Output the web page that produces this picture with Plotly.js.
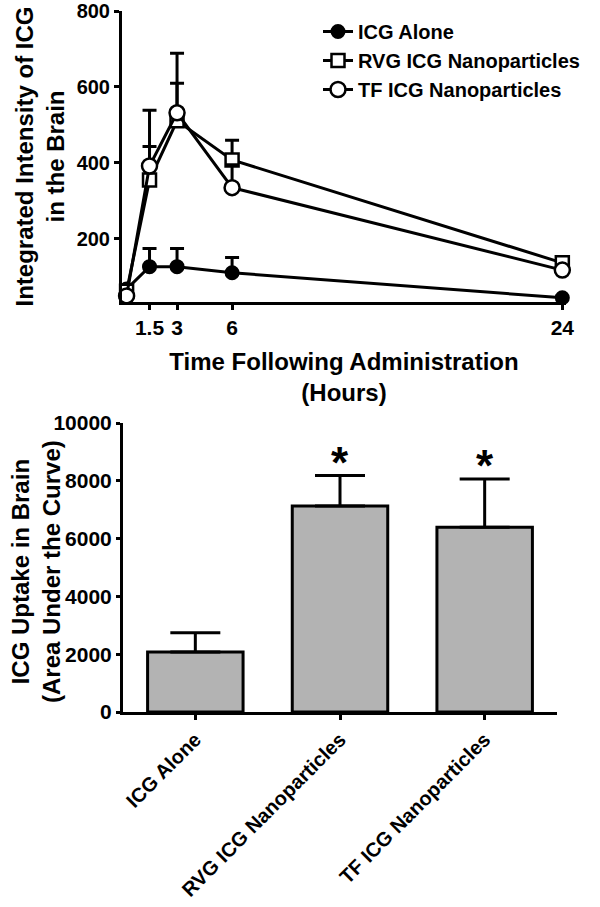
<!DOCTYPE html>
<html>
<head>
<meta charset="utf-8">
<script src="https://cdn.plot.ly/plotly-3.0.1.min.js"></script>
<style>html,body{margin:0;padding:0;background:#fff;}#chart{width:600px;height:907px;}</style>
</head>
<body>
<div id="chart"></div>
<script>
// ---- Data ----
const timeHours = [0.25, 1.5, 3, 6, 24];
const timeTickVals = [1.5, 3, 6, 24];
const timeTickText = ['1.5', '3', '6', '24'];

const icgAlone = [68, 127, 127, 111, 45];
const icgAloneErr = [5, 48, 48, 40, 5];
const rvgNano = [62, 355, 511, 408, 137];
const rvgNanoErr = [5, 88, 99, 52, 10];
const tfNano = [50, 392, 532, 335, 118];
const tfNanoErr = [5, 147, 157, 60, 8];

const seriesNames = ['ICG Alone', 'RVG ICG Nanoparticles', 'TF ICG Nanoparticles'];

const groups = ['ICG Alone', 'RVG ICG Nanoparticles', 'TF ICG Nanoparticles'];
const auc = [2080, 7130, 6390];
const aucErr = [660, 1050, 1670];
const signif = ['', '*', '*'];

const topYTicks = [200, 400, 600, 800];
const topYTickText = ['200', '400', '600', '800'];
const bottomYTicks = [0, 2000, 4000, 6000, 8000, 10000];
const bottomYTickText = ['0', '2000', '4000', '6000', '8000', '10000'];

// ---- Styling ----
const FONT = 'Liberation Sans, Arial, Helvetica, sans-serif';
const zeros = arr => arr.map(() => 0);

function errUp(arr) {
  return {type: 'data', symmetric: false, array: arr, arrayminus: zeros(arr),
          color: 'black', thickness: 3, width: 7};
}

const traces = [
  {
    x: timeHours, y: icgAlone, name: seriesNames[0], type: 'scatter', mode: 'lines+markers',
    xaxis: 'x', yaxis: 'y', cliponaxis: false,
    line: {color: 'black', width: 3},
    marker: {symbol: 'circle', size: 13, color: 'black', line: {color: 'black', width: 2}},
    error_y: errUp(icgAloneErr)
  },
  {
    x: timeHours, y: rvgNano, name: seriesNames[1], type: 'scatter', mode: 'lines+markers',
    xaxis: 'x', yaxis: 'y', cliponaxis: false,
    line: {color: 'black', width: 3},
    marker: {symbol: 'square', size: 13, color: 'white', line: {color: 'black', width: 2.5}},
    error_y: errUp(rvgNanoErr)
  },
  {
    x: timeHours, y: tfNano, name: seriesNames[2], type: 'scatter', mode: 'lines+markers',
    xaxis: 'x', yaxis: 'y', cliponaxis: false,
    line: {color: 'black', width: 3},
    marker: {symbol: 'circle', size: 15, color: 'white', line: {color: 'black', width: 2.5}},
    error_y: errUp(tfNanoErr)
  },
  {
    x: groups, y: auc, type: 'bar', xaxis: 'x2', yaxis: 'y2', showlegend: false,
    width: 0.66,
    marker: {color: '#b3b3b3', line: {color: 'black', width: 3}},
    error_y: {type: 'data', symmetric: false, array: aucErr, arrayminus: zeros(aucErr),
              color: 'black', thickness: 3, width: 25}
  }
];

const annotations = groups.map((g, i) => ({
  x: g, y: auc[i] + aucErr[i], xref: 'x2', yref: 'y2',
  text: signif[i], showarrow: false, xanchor: 'center', yanchor: 'bottom',
  yshift: -13,
  font: {family: FONT, size: 44, color: 'black', weight: 'bold'}
})).filter(a => a.text !== '');

annotations.push({
  xref: 'paper', yref: 'paper', x: 36 / 600, y: (907 - 572) / 907,
  text: 'ICG Uptake in Brain<br>(Area Under the Curve)', textangle: -90,
  showarrow: false, xanchor: 'center', yanchor: 'middle',
  font: {family: FONT, size: 24, color: 'black', weight: 'bold'}
});

const tickFont20 = {family: FONT, size: 20, color: 'black', weight: 'bold'};
const tickFont21 = {family: FONT, size: 21, color: 'black', weight: 'bold'};

const layout = {
  width: 600, height: 907, autosize: false,
  margin: {l: 0, r: 0, t: 0, b: 0},
  paper_bgcolor: 'white', plot_bgcolor: 'white',
  font: {family: FONT, color: 'black', weight: 'bold'},
  showlegend: true,
  legend: {
    x: 318 / 600, y: 1 - 12 / 907, xanchor: 'left', yanchor: 'top',
    bgcolor: 'rgba(0,0,0,0)', borderwidth: 0, itemwidth: 30,
    font: {family: FONT, size: 20, color: 'black', weight: 'bold'},
    tracegroupgap: 0
  },
  xaxis: {
    domain: [122 / 600, 566 / 600], anchor: 'y',
    range: [0, 24.2], tickmode: 'array', tickvals: timeTickVals, ticktext: timeTickText,
    showline: true, linecolor: 'black', linewidth: 3, mirror: false,
    ticks: 'outside', ticklen: 5, tickwidth: 3, tickcolor: 'black',
    showgrid: false, zeroline: false, tickfont: tickFont21, automargin: false,
    title: {text: 'Time Following Administration<br>(Hours)', standoff: 15,
            font: {family: FONT, size: 24, color: 'black', weight: 'bold'}}
  },
  yaxis: {
    domain: [(907 - 302) / 907, (907 - 11) / 907], anchor: 'x',
    range: [34, 800], tickmode: 'array', tickvals: topYTicks, ticktext: topYTickText,
    showline: true, linecolor: 'black', linewidth: 3,
    ticks: 'outside', ticklen: 5, tickwidth: 3, tickcolor: 'black',
    showgrid: false, zeroline: false, tickfont: tickFont20, automargin: false,
    title: {text: 'Integrated Intensity of ICG<br>in the Brain', standoff: 6,
            font: {family: FONT, size: 24, color: 'black', weight: 'bold'}}
  },
  xaxis2: {
    domain: [123 / 600, 557 / 600], anchor: 'y2', type: 'category',
    range: [-0.5, 2.5], tickangle: -45,
    showline: true, linecolor: 'black', linewidth: 3,
    ticks: 'outside', ticklen: 5, tickwidth: 3, tickcolor: 'black',
    showgrid: false, zeroline: false, tickfont: tickFont20, automargin: false
  },
  yaxis2: {
    domain: [(907 - 712) / 907, (907 - 423) / 907], anchor: 'x2',
    range: [0, 10000], tickmode: 'array', tickvals: bottomYTicks, ticktext: bottomYTickText,
    showline: true, linecolor: 'black', linewidth: 3,
    ticks: 'outside', ticklen: 4, tickwidth: 3, tickcolor: 'black',
    showgrid: false, zeroline: false, tickfont: tickFont21, automargin: false
  },
  annotations: annotations
};

Plotly.newPlot('chart', traces, layout, {staticPlot: true, displayModeBar: false});
</script>
</body>
</html>
